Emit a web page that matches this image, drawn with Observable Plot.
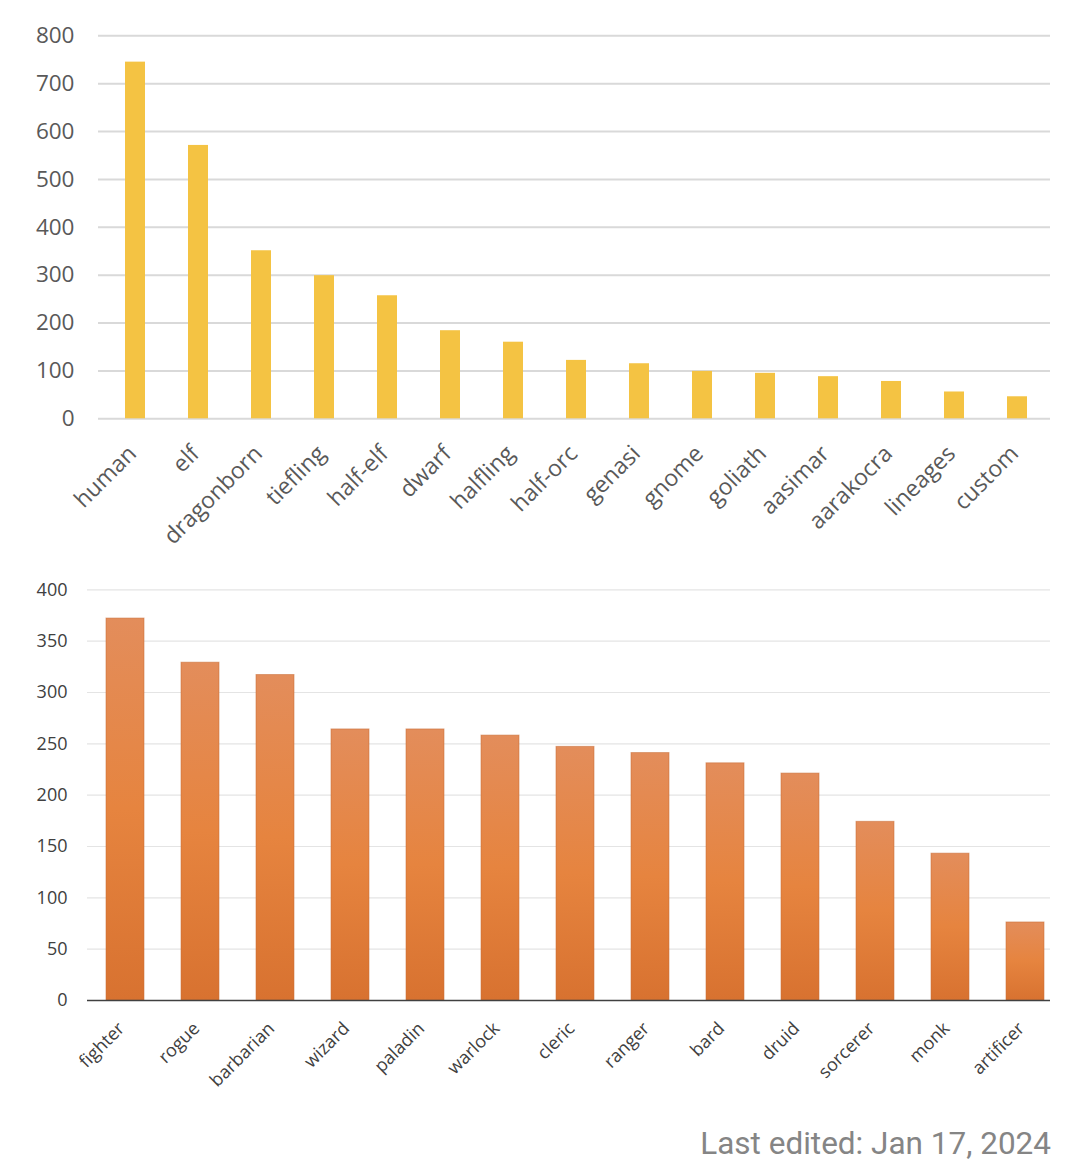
<!DOCTYPE html>
<html>
<head>
<meta charset="utf-8">
<script src="https://cdn.jsdelivr.net/npm/d3@7"></script>
<script src="https://cdn.jsdelivr.net/npm/@observablehq/plot@0.6"></script>
<style>
  html, body { margin: 0; padding: 0; background: #fff; }
  #wrap { position: relative; width: 1080px; height: 1169px; overflow: hidden; background: #fff; }
  #topChart { position: absolute; left: 0; top: 0; }
  #bottomChart { position: absolute; left: 0; top: 550px; }
  #caption { position: absolute; right: 29px; top: 1128px; font-family: Roboto, sans-serif; font-size: 31.5px; line-height: 31.5px; color: #858585; white-space: nowrap; }
</style>
</head>
<body>
<div id="wrap">
  <div id="topChart"></div>
  <div id="bottomChart"></div>
  <div id="caption">Last edited: Jan 17, 2024</div>
</div>
<script>
const races = ["human", "elf", "dragonborn", "tiefling", "half-elf", "dwarf", "halfling", "half-orc", "genasi", "gnome", "goliath", "aasimar", "aarakocra", "lineages", "custom"];
const raceCounts = [745, 571, 351, 299, 257, 184, 160, 122, 115, 99, 95, 88, 78, 56, 46];
const raceTicks = [0, 100, 200, 300, 400, 500, 600, 700, 800];

const classes = ["fighter", "rogue", "barbarian", "wizard", "paladin", "warlock", "cleric", "ranger", "bard", "druid", "sorcerer", "monk", "artificer"];
const classCounts = [372, 329, 317, 264, 264, 258, 247, 241, 231, 221, 174, 143, 76];
const classTicks = [0, 50, 100, 150, 200, 250, 300, 350, 400];

const raceData = races.map((r, i) => ({race: r, count: raceCounts[i]}));
const classData = classes.map((c, i) => ({cls: c, count: classCounts[i]}));

const raceChart = Plot.plot({
  width: 1080,
  height: 550,
  marginLeft: 98,
  marginRight: 30,
  marginTop: 35.3,
  marginBottom: 131.7,
  style: {fontFamily: "'Open Sans', sans-serif", fontSize: "22px", color: "#595959", background: "white"},
  x: {type: "band", domain: races, range: [98.6, 1052.3], paddingInner: 0.685, paddingOuter: 0.3425, label: null},
  y: {domain: [0, 800], label: null},
  marks: [
    Plot.gridY(raceTicks, {stroke: "#d9d9d9", strokeOpacity: 1, strokeWidth: 2}),
    Plot.barY(raceData, {x: "race", y: "count", fill: "#F4C343"}),
    Plot.axisY(raceTicks, {tickSize: 0, tickPadding: 24, fontSize: 22.5, label: null}),
    Plot.axisX({tickSize: 0, tickRotate: -45, tickPadding: 12, dy: 19, dx: -3, fontSize: 23, label: null})
  ]
});
document.getElementById("topChart").appendChild(raceChart);

const classChart = Plot.plot({
  width: 1080,
  height: 540,
  marginLeft: 87,
  marginRight: 30,
  marginTop: 39.3,
  marginBottom: 90,
  style: {fontFamily: "'Open Sans', sans-serif", fontSize: "18px", color: "#404040", background: "white"},
  x: {type: "band", domain: classes, range: [86, 1063.6], paddingInner: 0.495, paddingOuter: 0.2475, label: null},
  y: {domain: [0, 400], label: null},
  marks: [
    Plot.gridY(classTicks, {stroke: "#e4e4e4", strokeOpacity: 1, strokeWidth: 1.2}),
    Plot.barY(classData, {x: "cls", y: "count", fill: "url(#orangeGrad)", stroke: "#c86e38", strokeOpacity: 0.55, strokeWidth: 1}),
    Plot.ruleY([0], {stroke: "#404040", strokeWidth: 1.5}),
    Plot.axisY(classTicks, {tickSize: 0, tickPadding: 20, fontSize: 18, label: null}),
    Plot.axisX({tickSize: 0, tickRotate: -45, tickPadding: 10, dy: 15, dx: -4, fontSize: 18, label: null})
  ]
});
const defs = d3.select(classChart).insert("defs", ":first-child");
const grad = defs.append("linearGradient").attr("id", "orangeGrad")
  .attr("x1", 0).attr("y1", 0).attr("x2", 0).attr("y2", 1);
grad.append("stop").attr("offset", "0%").attr("stop-color", "#E38D5B");
grad.append("stop").attr("offset", "50%").attr("stop-color", "#E6843F");
grad.append("stop").attr("offset", "100%").attr("stop-color", "#D87230");
document.getElementById("bottomChart").appendChild(classChart);
</script>
</body>
</html>
